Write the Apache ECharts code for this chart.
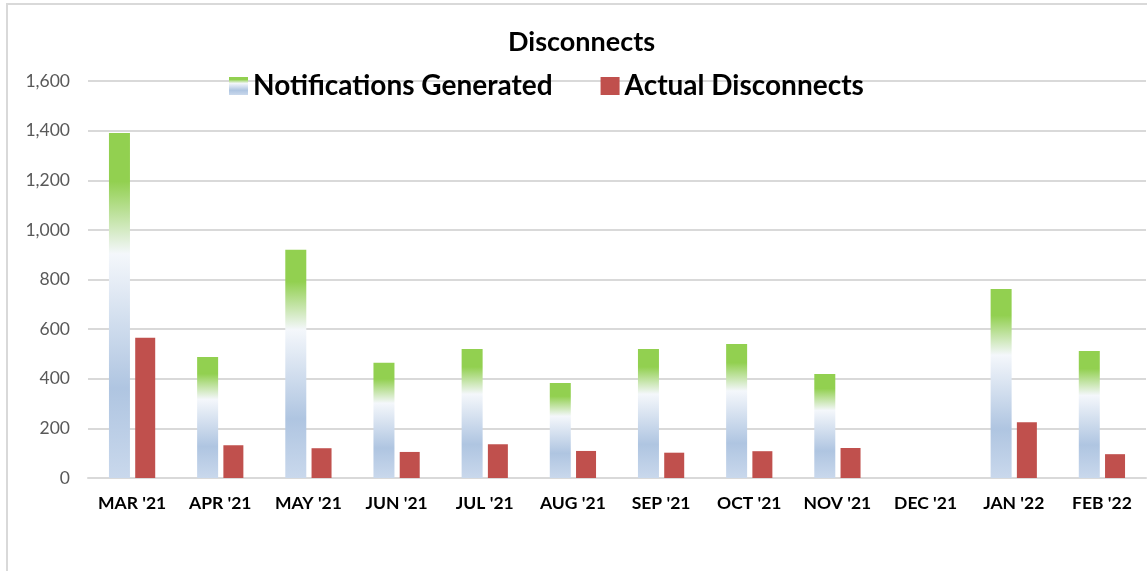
<!DOCTYPE html>
<html>
<head>
<meta charset="utf-8">
<script src="https://cdn.jsdelivr.net/npm/echarts@6/dist/echarts.min.js"></script>
<style>
  html, body { margin: 0; padding: 0; background: #fff; overflow: hidden; }
  #frame { position: absolute; left: 6px; top: 3px; width: 1200px; height: 620px; border: 2px solid #d9d9d9; }
  #chart { position: absolute; left: 0; top: 0; width: 1147px; height: 571px; }
</style>
</head>
<body>
<div id="frame"></div>
<div id="chart"></div>
<script>
// months along the x axis
const months = ["MAR '21", "APR '21", "MAY '21", "JUN '21", "JUL '21", "AUG '21",
  "SEP '21", "OCT '21", "NOV '21", "DEC '21", "JAN '22", "FEB '22"];
const notifications = [1390, 488, 920, 464, 520, 383, 520, 540, 419, 0, 762, 512];
const disconnects = [565, 132, 120, 105, 136, 109, 102, 108, 121, 0, 225, 96];
const yTicks = { min: 0, max: 1600, interval: 200 };

const font = 'Lato, "Open Sans", sans-serif';

// green at top, fading through white to steel blue
const greenBlue = new echarts.graphic.LinearGradient(0, 0, 0, 1, [
  { offset: 0, color: '#92d050' },
  { offset: 0.14, color: '#92d050' },
  { offset: 0.35, color: '#f4f7fb' },
  { offset: 0.74, color: '#afc5e1' },
  { offset: 1, color: '#c9d8ec' },
]);

const chart = echarts.init(document.getElementById('chart'));
chart.setOption({
  animation: false,
  title: {
    text: 'Disconnects',
    left: 503,
    top: 24,
    textStyle: { fontFamily: font, fontSize: 27, fontWeight: 'bold', color: '#000' },
  },
  legend: {
    top: 67,
    left: 224,
    itemWidth: 19,
    itemHeight: 18,
    itemGap: 48,
    itemStyle: { borderWidth: 0 },
    textStyle: { fontFamily: font, fontSize: 28, fontWeight: 'bold', color: '#000' },
    data: [
      { name: 'Notifications Generated', icon: 'rect' },
      { name: 'Actual Disconnects', icon: 'rect' },
    ],
  },
  grid: { left: 88, right: 1, top: 81, bottom: 93 },
  xAxis: {
    type: 'category',
    data: months,
    axisLine: { lineStyle: { color: '#d9d9d9', width: 2 } },
    axisTick: { show: false },
    axisLabel: {
      interval: 0, hideOverlap: false,
      fontFamily: font, fontSize: 17.5, fontWeight: 'bold', color: '#000', margin: 16,
    },
  },
  yAxis: {
    type: 'value',
    min: yTicks.min,
    max: yTicks.max,
    interval: yTicks.interval,
    axisLine: { show: false },
    axisTick: { show: false },
    splitLine: { lineStyle: { color: '#d9d9d9', width: 2 } },
    axisLabel: {
      fontFamily: font, fontSize: 17.5, color: '#595959', margin: 18,
      formatter: v => v.toLocaleString('en-US'),
    },
  },
  series: [
    {
      name: 'Notifications Generated',
      type: 'bar',
      data: notifications,
      barWidth: 21,
      barGap: '25%',
      itemStyle: { color: greenBlue },
    },
    {
      name: 'Actual Disconnects',
      type: 'bar',
      data: disconnects,
      barWidth: 20,
      itemStyle: { color: '#c0504d' },
    },
  ],
});
</script>
</body>
</html>
